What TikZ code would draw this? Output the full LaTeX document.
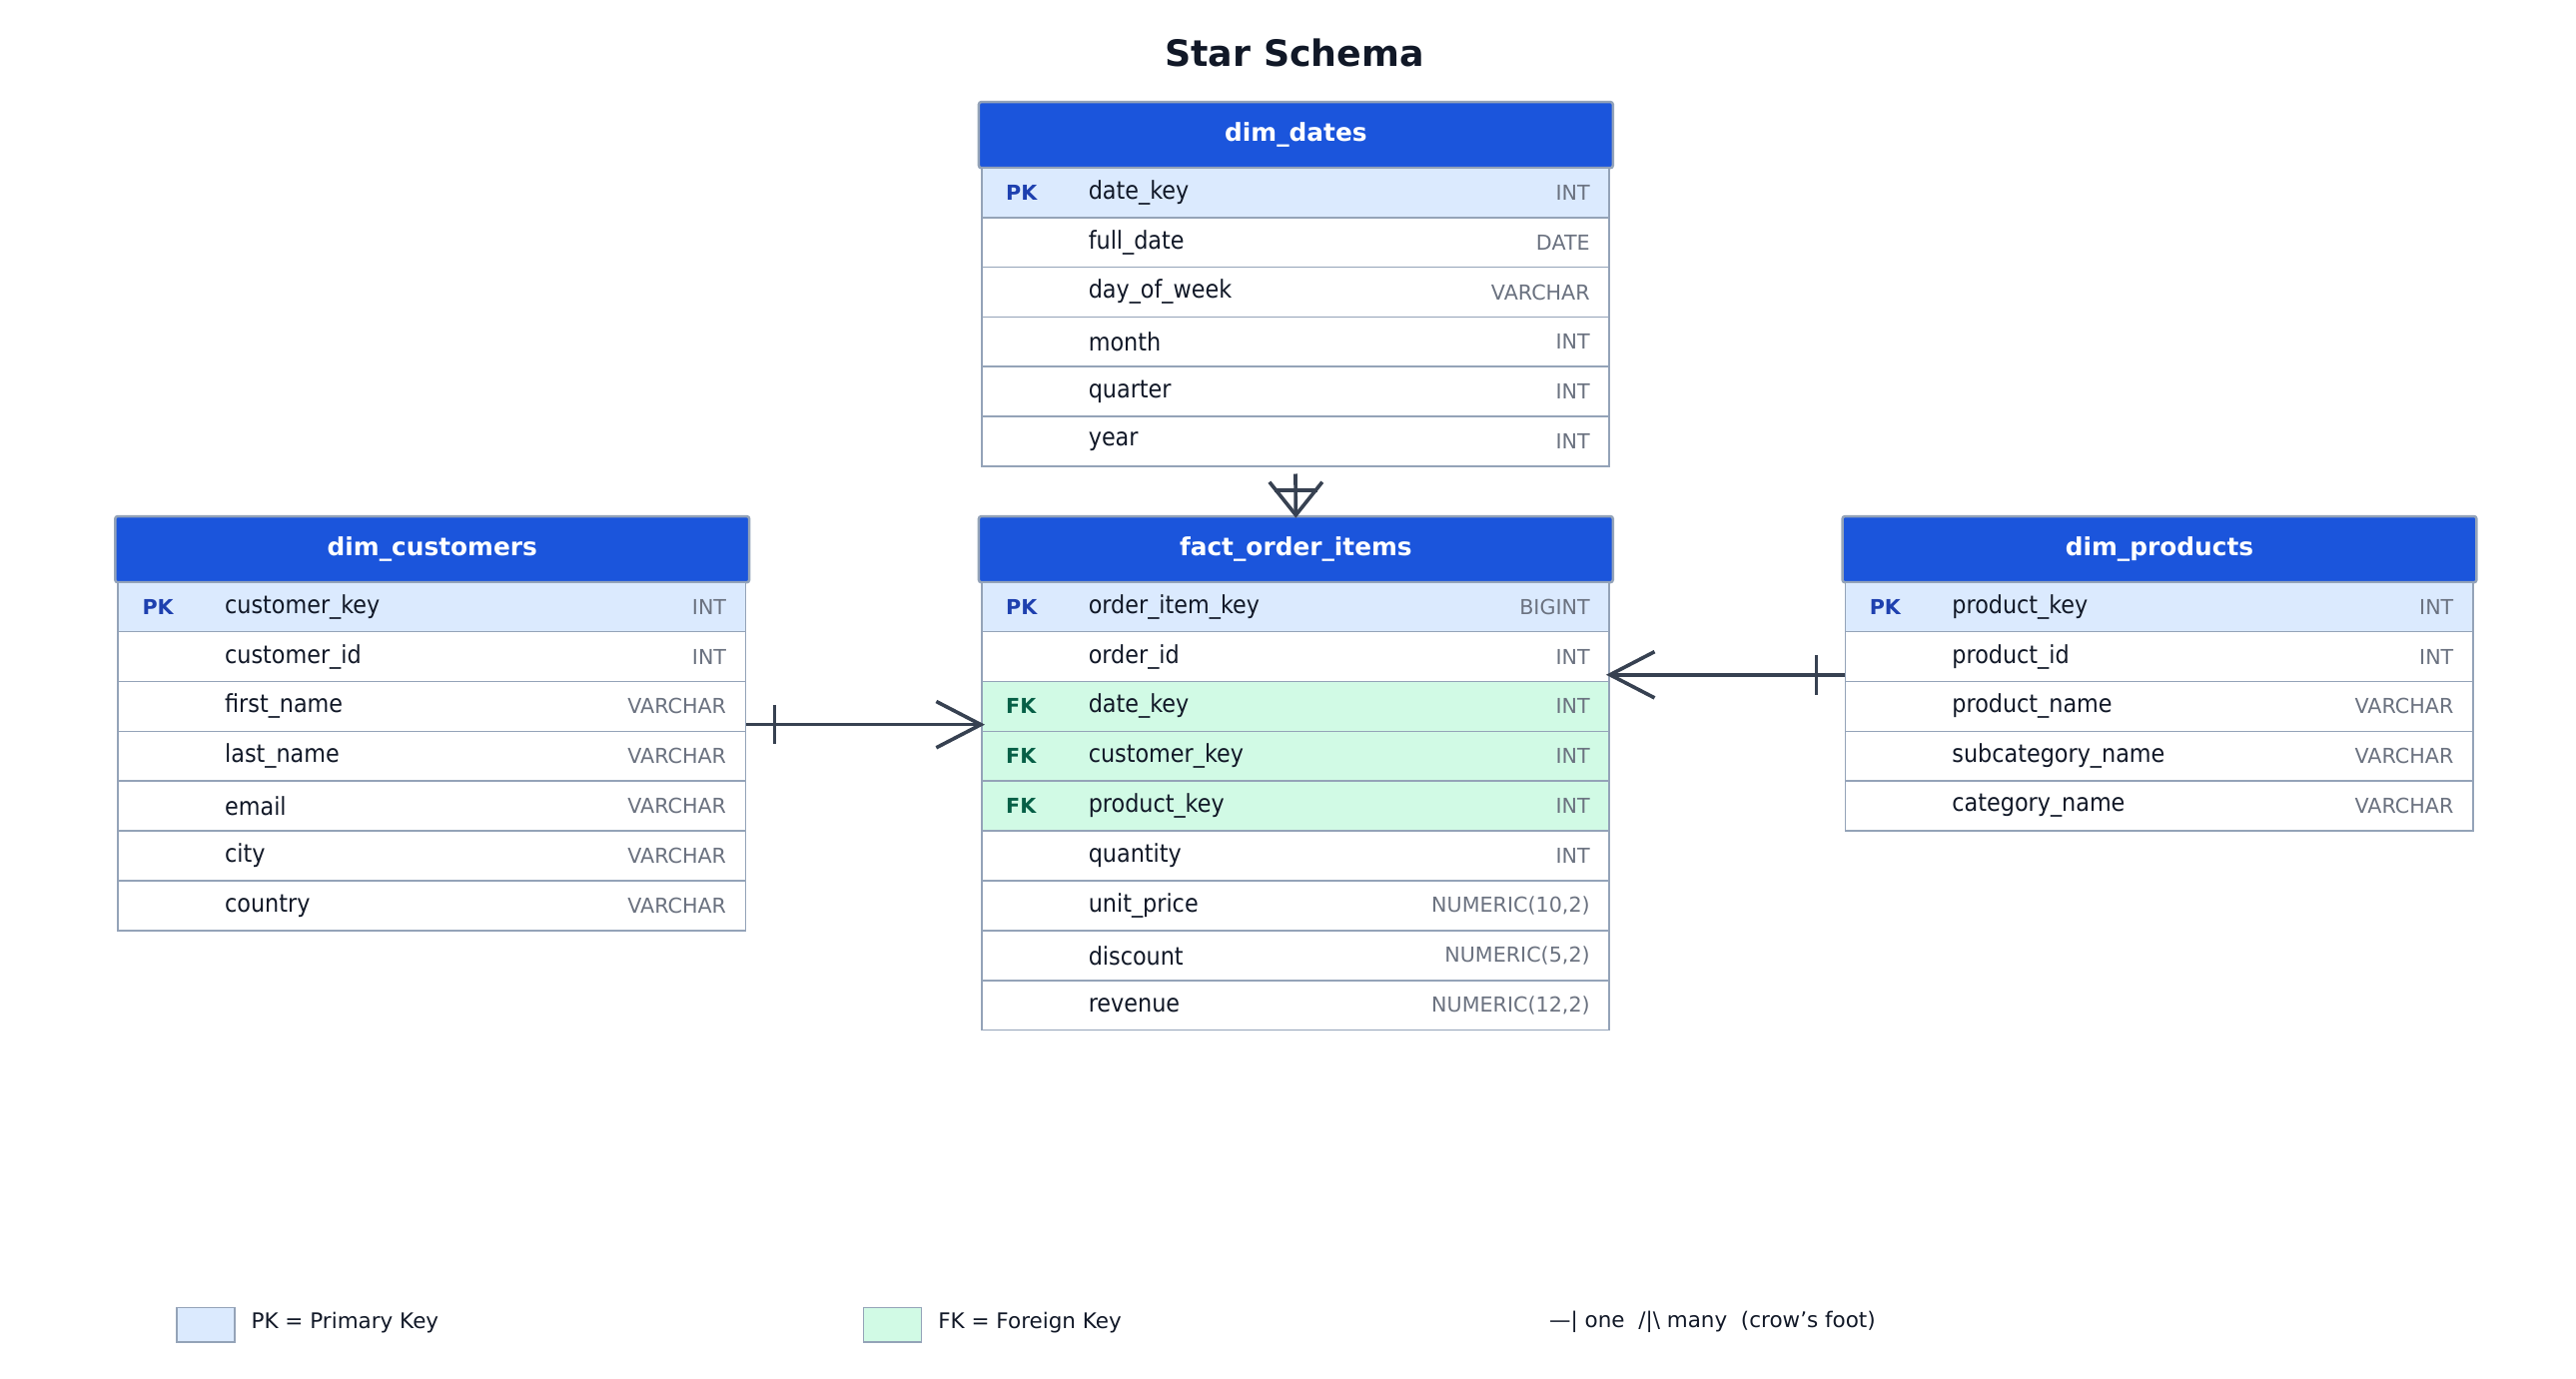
\documentclass[tikz,border=0pt]{standalone}
\usepackage{fontspec}
\setmainfont{DejaVu Sans}
\newfontfamily\condf{DejaVu Sans Condensed}
\definecolor{hdrblue}{HTML}{1B55DC}
\definecolor{bordgray}{HTML}{94A3B8}
\definecolor{pkfill}{HTML}{DBEAFE}
\definecolor{fkfill}{HTML}{D1FAE5}
\definecolor{pktxt}{HTML}{1E40AF}
\definecolor{fktxt}{HTML}{065F46}
\definecolor{typetxt}{HTML}{6B7280}
\definecolor{nametxt}{HTML}{111827}
\definecolor{conncol}{HTML}{374151}
\tikzset{
 hdr/.style={draw=bordgray, line width=1.5pt, fill=hdrblue, rounded corners=1.5pt, minimum width=384pt, minimum height=40pt, text=white, font=\fontsize{15}{18}\selectfont\bfseries, inner sep=0},
 rowbox/.style={draw=bordgray, line width=1pt, minimum width=380pt, minimum height=30.17pt, inner sep=0},
 rowpk/.style={fill=pkfill}, rowfk/.style={fill=fkfill}, rowno/.style={fill=white},
 keytxt/.style={font=\fontsize{12.5}{14}\selectfont\bfseries, inner sep=0},
 keypk/.style={text=pktxt}, keyfk/.style={text=fktxt}, keyno/.style={},
 nametext/.style={font=\condf\fontsize{15}{17}\selectfont, text=nametxt, inner sep=0},
 typetext/.style={font=\fontsize{12.5}{14}\selectfont, text=typetxt, inner sep=0},
 conn/.style={draw=conncol, line width=2.2pt},
 legtext/.style={font=\fontsize{13}{15}\selectfont, text=nametxt, anchor=west, inner sep=0},
}
\newcommand\dbtable[5]{%
 \node[hdr, anchor=north west] (#1) at (#2,#3) {#4};
 \foreach \k/\kl/\f/\t [count=\i] in {#5} {
   \node[rowbox, row\k, anchor=north west] (#1-r\i) at ({#2+2},{#3+40+(\i-1)*30.17}) {};
   \node[keytxt, key\k, anchor=west] at ([xshift=15pt]#1-r\i.west) {\kl};
   \node[nametext, anchor=west] at ([xshift=65pt]#1-r\i.west) {\f};
   \node[typetext, anchor=east] at ([xshift=-12pt]#1-r\i.east) {\t};
 }}
\begin{document}
\begin{tikzpicture}[x=1pt,y=-1pt]
\useasboundingbox (0,0) rectangle (1560,835);
\node[font=\fontsize{22}{26}\selectfont\bfseries, text=nametxt] (title) at (784,32) {Star Schema};
\dbtable{dates}{592}{61}{dim\_dates}{pk/PK/date\_key/INT, no//full\_date/DATE, no//day\_of\_week/VARCHAR, no//month/INT, no//quarter/INT, no//year/INT}
\dbtable{fact}{592}{312}{fact\_order\_items}{pk/PK/order\_item\_key/BIGINT, no//order\_id/INT, fk/FK/date\_key/INT, fk/FK/customer\_key/INT, fk/FK/product\_key/INT, no//quantity/INT, no//unit\_price/{NUMERIC(10,2)}, no//discount/{NUMERIC(5,2)}, no//revenue/{NUMERIC(12,2)}}
\dbtable{cust}{69}{312}{dim\_customers}{pk/PK/customer\_key/INT, no//customer\_id/INT, no//first\_name/VARCHAR, no//last\_name/VARCHAR, no//email/VARCHAR, no//city/VARCHAR, no//country/VARCHAR}
\dbtable{prod}{1115}{312}{dim\_products}{pk/PK/product\_key/INT, no//product\_id/INT, no//product\_name/VARCHAR, no//subcategory\_name/VARCHAR, no//category\_name/VARCHAR}
% dates -> fact
\draw[conn] ([yshift=-4pt]dates-r6.south) -- (fact.north);
\draw[conn] ([xshift=-16pt,yshift=20pt]fact.north) -- (fact.north) -- ([xshift=16pt,yshift=20pt]fact.north);
\draw[conn] ([xshift=-13pt,yshift=15pt]fact.north) -- ([xshift=13pt,yshift=15pt]fact.north);
% customers -> fact
\coordinate (cA) at ([yshift=-11pt]cust-r3.east);
\coordinate (cB) at ([yshift=-11pt]fact-r3.west);
\draw[conn] (cA) -- (cB);
\draw[conn] ([xshift=17pt,yshift=12pt]cA) -- ([xshift=17pt,yshift=-12pt]cA);
\draw[conn] ([xshift=-27pt,yshift=14pt]cB) -- (cB) -- ([xshift=-27pt,yshift=-14pt]cB);
% products -> fact
\coordinate (pA) at ([yshift=-11pt]prod-r2.west);
\coordinate (pB) at ([yshift=-11pt]fact-r2.east);
\draw[conn] (pA) -- (pB);
\draw[conn] ([xshift=-17pt,yshift=12pt]pA) -- ([xshift=-17pt,yshift=-12pt]pA);
\draw[conn] ([xshift=27pt,yshift=14pt]pB) -- (pB) -- ([xshift=27pt,yshift=-14pt]pB);
% legend
\node[draw=bordgray, line width=1pt, fill=pkfill, minimum width=35pt, minimum height=21pt, inner sep=0] (lpk) at (124.5,802.5) {};
\node[legtext] (lpkt) at (152,801) {PK = Primary Key};
\node[draw=bordgray, line width=1pt, fill=fkfill, minimum width=35pt, minimum height=21pt, inner sep=0] (lfk) at (540.5,802.5) {};
\node[legtext] (lfkt) at (568,801) {FK = Foreign Key};
\node[legtext] (lcf) at (938,801) {—| one\ \ /|\textbackslash\ many\ \ (crow's foot)};
\end{tikzpicture}
\end{document}
